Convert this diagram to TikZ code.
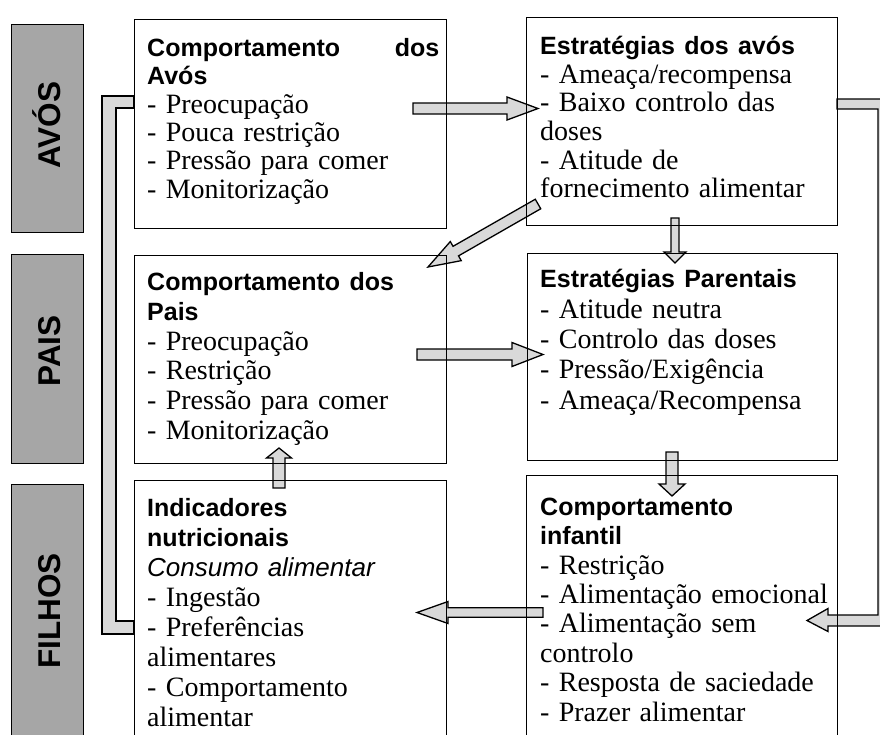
\documentclass[tikz,border=0pt]{standalone}
\usepackage{fontspec}
\setmainfont{Liberation Serif}
\newfontfamily\sansf{Liberation Sans}
\usetikzlibrary{calc}
\definecolor{lblgray}{HTML}{A6A6A6}
\definecolor{arrgray}{HTML}{D9D9D9}
\setlength{\lineskiplimit}{-60pt}
\setlength{\parindent}{0pt}
\newcommand\hd{\sansf\bfseries\fontsize{25}{28.4}\selectfont}
\newcommand\consit{\sansf\itshape\fontsize{26}{28.4}\selectfont}
\newcommand\blockarrow[5]{%
 \draw[barrow] let \p1=(#1), \p2=(#2), \n1={atan2(\y2-\y1,\x2-\x1)}, \n2={veclen(\x2-\x1,\y2-\y1)-#5} in
 ($(\p1)+(\n1+90:#3pt)$) -- ($(\p1)+(\n1:\n2)+(\n1+90:#3pt)$) -- ($(\p1)+(\n1:\n2)+(\n1+90:#4pt)$) -- (\p2)
 -- ($(\p1)+(\n1:\n2)+(\n1-90:#4pt)$) -- ($(\p1)+(\n1:\n2)+(\n1-90:#3pt)$) -- ($(\p1)+(\n1-90:#3pt)$) -- cycle;}
\begin{document}
\begin{tikzpicture}[x=1pt,y=-1pt,
  box/.style={draw, line width=1.4pt, inner sep=0, anchor=north west},
  lbl/.style={draw, fill=lblgray, line width=1.2pt, inner sep=0, anchor=north west, minimum width=72pt},
  lbltext/.style={rotate=90, inner sep=0, anchor=base, font=\sansf\bfseries\fontsize{31.5}{33}\selectfont},
  barrow/.style={draw, fill=arrgray, line width=1.3pt, line join=miter},
  txt/.style={anchor=north west, inner sep=0, text width=330pt, align=left, font=\fontsize{28}{#1}\selectfont}]
\useasboundingbox (0,0) rectangle (880,734);
\clip (0,0) rectangle (880,734);
% side labels
\node[lbl, minimum height=208pt] (avos) at (11,24) {};
\node[lbltext] (avosT) at (60.5,125) {AVÓS};
\node[lbl, minimum height=209pt] (pais) at (11,254) {};
\node[lbltext] (paisT) at (60.5,351) {PAIS};
\node[lbl, minimum height=280pt] (filhos) at (11,484) {};
\node[lbltext] (filhosT) at (60.5,611) {FILHOS};
% arrow end points
\coordinate (ab-s) at (413,108.5); \coordinate (ab-e) at (538,108.5);
\coordinate (bc-s) at (538,204);   \coordinate (bc-e) at (428,267);
\coordinate (bd-s) at (675,218);   \coordinate (bd-e) at (675,263);
\coordinate (cd-s) at (417,354.5); \coordinate (cd-e) at (543,354.5);
\coordinate (ec-s) at (279,488);   \coordinate (ec-e) at (279,448);
\coordinate (df-s) at (672,452);   \coordinate (df-e) at (672,496);
\coordinate (fe-s) at (543,612.5); \coordinate (fe-e) at (417,612.5);
\blockarrow{ab-s}{ab-e}{5.5}{11.5}{31}
\blockarrow{bc-s}{bc-e}{5.5}{11}{32}
\blockarrow{bd-s}{bd-e}{4}{11}{11}
\blockarrow{cd-s}{cd-e}{5.5}{12}{31}
\blockarrow{ec-s}{ec-e}{6}{12.5}{10}
\blockarrow{df-s}{df-e}{6}{13}{12}
\blockarrow{fe-s}{fe-e}{4.8}{11}{31}
% right connector (B -> F)
\draw[barrow] (837,99) -- (892,99) -- (892,626) -- (828,626) -- (828,631.5) -- (807,620.5) -- (828,608.5)
  -- (828,615) -- (878,615) -- (878,109) -- (837,109) -- cycle;
% left connector (E -- A)
\draw[barrow] (134,96) -- (102,96) -- (102,634) -- (134,634) -- (134,621) -- (116,621) -- (116,108) -- (134,108) -- cycle;
% boxes
\node[box, minimum width=312pt, minimum height=209pt] (A) at (134,19) {};
\node[box, minimum width=311pt, minimum height=208pt] (B) at (526,17) {};
\node[box, minimum width=312pt, minimum height=208pt] (C) at (134,255) {};
\node[box, minimum width=310pt, minimum height=207pt] (D) at (527,253) {};
\node[box, minimum width=312pt, minimum height=280pt] (E) at (134,480) {};
\node[box, minimum width=311pt, minimum height=285pt] (F) at (526,475) {};
% texts
\node[txt=28.4] (At) at (147,36) {\rule{0pt}{20pt}{\hd\hbox to 292pt{Comportamento\hfill dos}}\\
 {\hd Avós}\\ - Preocupação\\ - Pouca restrição\\ - Pressão para comer\\ - Monitorização};
\node[txt=28.6] (Bt) at (540,34.5) {\rule{0pt}{20pt}{\hd Estratégias dos avós}\\
 - Ameaça/recompensa\\ - Baixo controlo das\\ doses\\ - Atitude de\\ fornecimento alimentar};
\node[txt=29.9] (Ct) at (147,270) {\rule{0pt}{20pt}{\hd Comportamento dos}\\
 {\hd Pais}\\ - Preocupação\\ - Restrição\\ - Pressão para comer\\ - Monitorização};
\node[txt=30.4] (Dt) at (540,267.5) {\rule{0pt}{20pt}{\hd Estratégias Parentais}\\
 - Atitude neutra\\ - Controlo das doses\\ - Pressão/Exigência\\ - Ameaça/Recompensa};
\node[txt=30.1] (Et) at (147,496) {\rule{0pt}{20pt}{\hd Indicadores}\\ {\hd nutricionais}\\ {\consit Consumo alimentar}\\
 - Ingestão\\ - Preferências\\ alimentares\\ - Comportamento\\ alimentar};
\node[txt=29.4] (Ft) at (540,495) {\rule{0pt}{20pt}{\hd Comportamento}\\ {\hd infantil}\\
 - Restrição\\ - Alimentação emocional\\ - Alimentação sem\\ controlo\\ - Resposta de saciedade\\ - Prazer alimentar};
\end{tikzpicture}
\end{document}
